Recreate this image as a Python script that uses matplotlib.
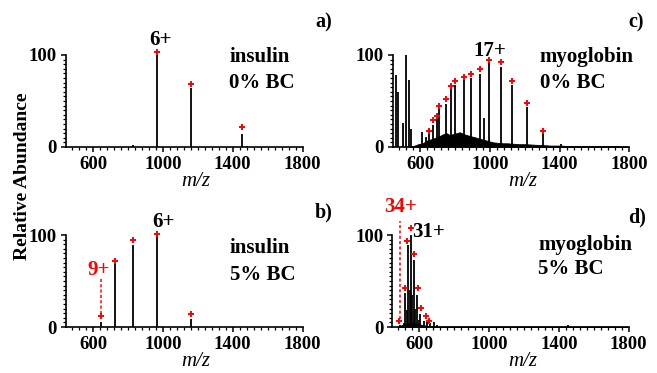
import numpy as np
import matplotlib as mpl
import matplotlib.pyplot as plt
from matplotlib.ticker import MultipleLocator

##################################################
# 字体: Times 风格粗体
mpl.rcParams['font.family'] = ['Liberation Serif', 'DejaVu Serif']
mpl.rcParams['font.weight'] = 'bold'
##################################################
# 数据
# a) insulin 0% BC
a_mz = [830, 968, 1162, 1453, 1480]
a_int = [2, 100, 64, 14, 1]
a_mark_mz = [968, 1162, 1453]
a_mark_int = [103, 68, 22]

# b) insulin 5% BC
b_mz = [646, 727, 830, 968, 1162]
b_int = [5, 69, 89, 100, 9]
b_mark_mz = [646, 727, 830, 968, 1162]
b_mark_int = [11.6, 72, 94.5, 101, 14.5]
b_dash = [14.5, 54.5]   # 9+ 虚线 (y 范围)

# c) myoglobin 0% BC
c_mz = [463, 473, 505, 520, 539, 548, 612, 635,
        652, 673, 696, 711, 749, 776, 802, 853, 893, 945, 966, 996,
        1063, 1130, 1216, 1303, 1410]
c_int = [78, 60, 26, 100, 73, 19, 16, 11,
         14.5, 24, 34.5, 42, 46.5, 64, 67, 73, 75, 79, 31, 91,
         87, 67, 43, 15, 3]
c_mark_mz = [652, 673, 696, 711, 749, 776, 802, 853, 893, 945, 996,
             1063, 1130, 1216, 1303]
c_mark_int = [17.5, 29, 34, 44, 52, 66.5, 71.5, 76.5, 79, 84.5, 94,
              92.5, 72, 48, 17.5]
# 背景包络
c_hump_mz = [540, 562, 590, 616, 640, 676, 700, 714, 735, 753, 770, 791,
             810, 829, 850, 867, 885, 905, 925, 943, 960, 981, 1000, 1019,
             1045, 1076, 1100, 1133, 1170, 1209, 1250, 1305, 1350, 1400,
             1450, 1500, 1600, 1700, 1790]
c_hump_int = [0.5, 1, 3, 4, 7, 9, 11, 12, 14, 15, 13, 14,
              15, 16, 14, 13, 12, 11, 10, 9, 8, 7, 6, 5,
              4.5, 4, 4, 3.5, 3, 3, 2.5, 2, 1.5, 1.5,
              1, 1, 1, 0.8, 0.5]

# d) myoglobin 5% BC
d_mz = [487, 510, 520, 528, 536, 544, 553, 561, 568, 578, 587, 596,
        606, 625, 645, 660, 682, 700, 900, 1450]
d_int = [2, 4, 37, 18, 89, 40, 100, 35, 73, 20, 35, 8,
         14, 7, 5, 4, 5, 2, 1.5, 2.5]
d_mark_mz = [484, 517, 532, 551, 570, 593, 612, 636, 657]
d_mark_int = [6.5, 42, 94, 108, 79, 42, 21, 12.5, 6.5]
d_dash = [9, 115]   # 34+ 虚线
d_hump_mz = [480, 500, 520, 540, 560, 580, 600, 620, 640, 660, 700, 800,
             1000, 1400, 1790]
d_hump_int = [0.5, 2, 3, 4.5, 5, 4, 3, 2, 1.5, 1, 0.6, 0.5, 0.5, 0.5, 0.4]

xticks = [600, 1000, 1400, 1800]
##################################################
fig = plt.figure(figsize=[6.57, 3.73], dpi=100)

W, H = 0.36, 0.2466
pos = {'a': [0.1005, 0.606, W, H], 'c': [0.598, 0.606, W, H],
       'b': [0.1005, 0.1233, W, H], 'd': [0.597, 0.1233, W, H]}


def setup(ax):
    ax.set_xlim(445, 1800)
    ax.set_ylim(0, 100)
    for s in ['top', 'right']:
        ax.spines[s].set_visible(False)
    for s in ['left', 'bottom']:
        ax.spines[s].set_linewidth(1.2)
    ax.set_xticks(xticks)
    ax.set_yticks([0, 100])
    ax.xaxis.set_minor_locator(MultipleLocator(40))
    ax.yaxis.set_minor_locator(MultipleLocator(5))
    ax.tick_params(which='major', direction='out', length=3.5, width=1.1,
                   labelsize=13.5, pad=3)
    ax.tick_params(which='minor', direction='out', length=2.5, width=0.9)
    ax.set_xlabel('m/z', style='italic', fontsize=15, labelpad=0)
    ax.xaxis.set_label_coords(0.55, -0.27)


def peaks(ax, mz, inten, mmz, mint):
    ax.vlines(mz, 0, inten, color='k', lw=1.3)
    ax.plot(mmz, mint, ls='none', marker='+', ms=5, mew=1.4,
            color='red', clip_on=False, zorder=5)


# a)
ax = fig.add_axes(pos['a'])
setup(ax)
peaks(ax, a_mz, a_int, a_mark_mz, a_mark_int)
ax.text(987, 116, '6+', fontsize=15, ha='center', va='center')
ax.text(1384, 98, 'insulin', fontsize=15, ha='left', va='center')
ax.text(1378, 70, '0% BC', fontsize=15, ha='left', va='center')
ax.text(1919, 135, 'a)', fontsize=14.5, ha='center', va='center', clip_on=False)

# b)
ax = fig.add_axes(pos['b'])
setup(ax)
peaks(ax, b_mz, b_int, b_mark_mz, b_mark_int)
ax.plot([646, 646], b_dash, color='red', ls='--', lw=1.1, dashes=(2, 1.5))
ax.text(632, 62, '9+', fontsize=15, color='red', ha='center', va='center')
ax.text(1004, 114.5, '6+', fontsize=15, ha='center', va='center')
ax.text(1384, 86, 'insulin', fontsize=15, ha='left', va='center')
ax.text(1384, 56.5, '5% BC', fontsize=15, ha='left', va='center')
ax.text(1919, 124, 'b)', fontsize=14.5, ha='center', va='center', clip_on=False)

# c)
ax = fig.add_axes(pos['c'])
setup(ax)
ax.fill_between(c_hump_mz, 0, c_hump_int, color='k', lw=0.6)
peaks(ax, c_mz, c_int, c_mark_mz, c_mark_int)
ax.text(1000, 104, '17+', fontsize=15, ha='center', va='center')
ax.text(1286, 98, 'myoglobin', fontsize=15, ha='left', va='center')
ax.text(1286, 70, '0% BC', fontsize=15, ha='left', va='center')
ax.text(1840, 135, 'c)', fontsize=14.5, ha='center', va='center', clip_on=False)

# d)
ax = fig.add_axes(pos['d'])
setup(ax)
ax.fill_between(d_hump_mz, 0, d_hump_int, color='k', lw=0.6)
peaks(ax, d_mz, d_int, d_mark_mz, d_mark_int)
ax.plot([490, 490], d_dash, color='red', ls='--', lw=1.1, dashes=(2, 1.5),
        clip_on=False)
ax.text(493, 130, '34+', fontsize=15, color='red', ha='center', va='center')
ax.text(560, 103, '31+', fontsize=15, ha='left', va='center')
ax.text(1280, 89, 'myoglobin', fontsize=15, ha='left', va='center')
ax.text(1280, 63, '5% BC', fontsize=15, ha='left', va='center')
ax.text(1846, 119, 'd)', fontsize=14.5, ha='center', va='center', clip_on=False)

fig.text(0.034, 1 - 176 / 373, 'Relative Abundance', rotation=90,
         fontsize=14, ha='center', va='center')

fig.savefig('out.png', dpi=100)
